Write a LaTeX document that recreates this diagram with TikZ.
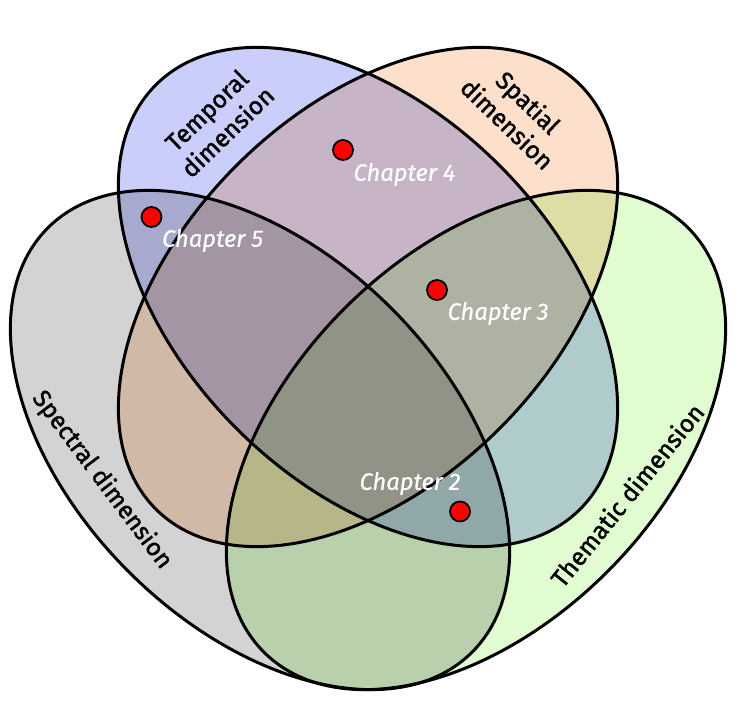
\documentclass[tikz,border=0pt]{standalone}
\usepackage{fontspec}
\setmainfont{Fira Sans}
\newfontfamily\dimfont{Fira Sans}[FakeBold=1.5]
\newfontfamily\chapfont{Fira Sans Italic}[FakeBold=0.6]
\usepackage{xcolor}
\usepackage{tikz}
\usetikzlibrary{positioning}

\definecolor{tempblue}{RGB}{201,206,251}
\definecolor{spatorange}{RGB}{253,224,203}
\definecolor{specgray}{RGB}{211,211,211}
\definecolor{themgreen}{RGB}{224,252,208}

\tikzset{
    dimset/.style={draw=black, line width=1.7pt},
    chapdot/.style={circle, fill=red, draw=black, line width=1pt, minimum size=0.4cm, inner sep=0pt},
    chaplabel/.style={text=white, font=\fontsize{13.5}{16}\chapfont, inner sep=0pt},
    dimlabel/.style={font=\fontsize{14}{17}\dimfont, align=center, inner sep=0pt}
}

\begin{document}
\begin{tikzpicture}
    \useasboundingbox (0,0) rectangle (14.9,14);

    \begin{scope}[blend mode=multiply]
        \filldraw[dimset, fill=themgreen, rotate around={45:(9.52,5.20)}] (9.52,5.20) ellipse (6 and 3.72);
        \filldraw[dimset, fill=specgray, rotate around={-45:(5.20,5.20)}] (5.20,5.20) ellipse (6 and 3.72);
        \filldraw[dimset, fill=spatorange, rotate around={45:(7.36,8.06)}] (7.36,8.06) ellipse (6 and 3.72);
        \filldraw[dimset, fill=tempblue, rotate around={-45:(7.36,8.06)}] (7.36,8.06) ellipse (6 and 3.72);
    \end{scope}

    \node[dimlabel, rotate=44] (temporal) at (4.34,11.58) {Temporal\\dimension};
    \node[dimlabel, rotate=-44] (spatial) at (10.36,11.74) {Spatial\\dimension};
    \node[dimlabel, rotate=-53] (spectral) at (2.04,4.40) {Spectral dimension};
    \node[dimlabel, rotate=51] (thematic) at (12.54,4.10) {Thematic dimension};

    \node[chapdot] (dot5) at (3.03,9.66) {};
    \node[chapdot] (dot4) at (6.86,11.00) {};
    \node[chapdot] (dot3) at (8.74,8.20) {};
    \node[chapdot] (dot2) at (9.20,3.77) {};

    \node[chaplabel, below right=0.08 and 0.05 of dot5] (chap5) {Chapter 5};
    \node[chaplabel, below right=0.10 and 0.05 of dot4] (chap4) {Chapter 4};
    \node[chaplabel, below right=0.08 and 0.05 of dot3] (chap3) {Chapter 3};
    \node[chaplabel, above left=0.17 and -0.17 of dot2] (chap2) {Chapter 2};
\end{tikzpicture}
\end{document}
